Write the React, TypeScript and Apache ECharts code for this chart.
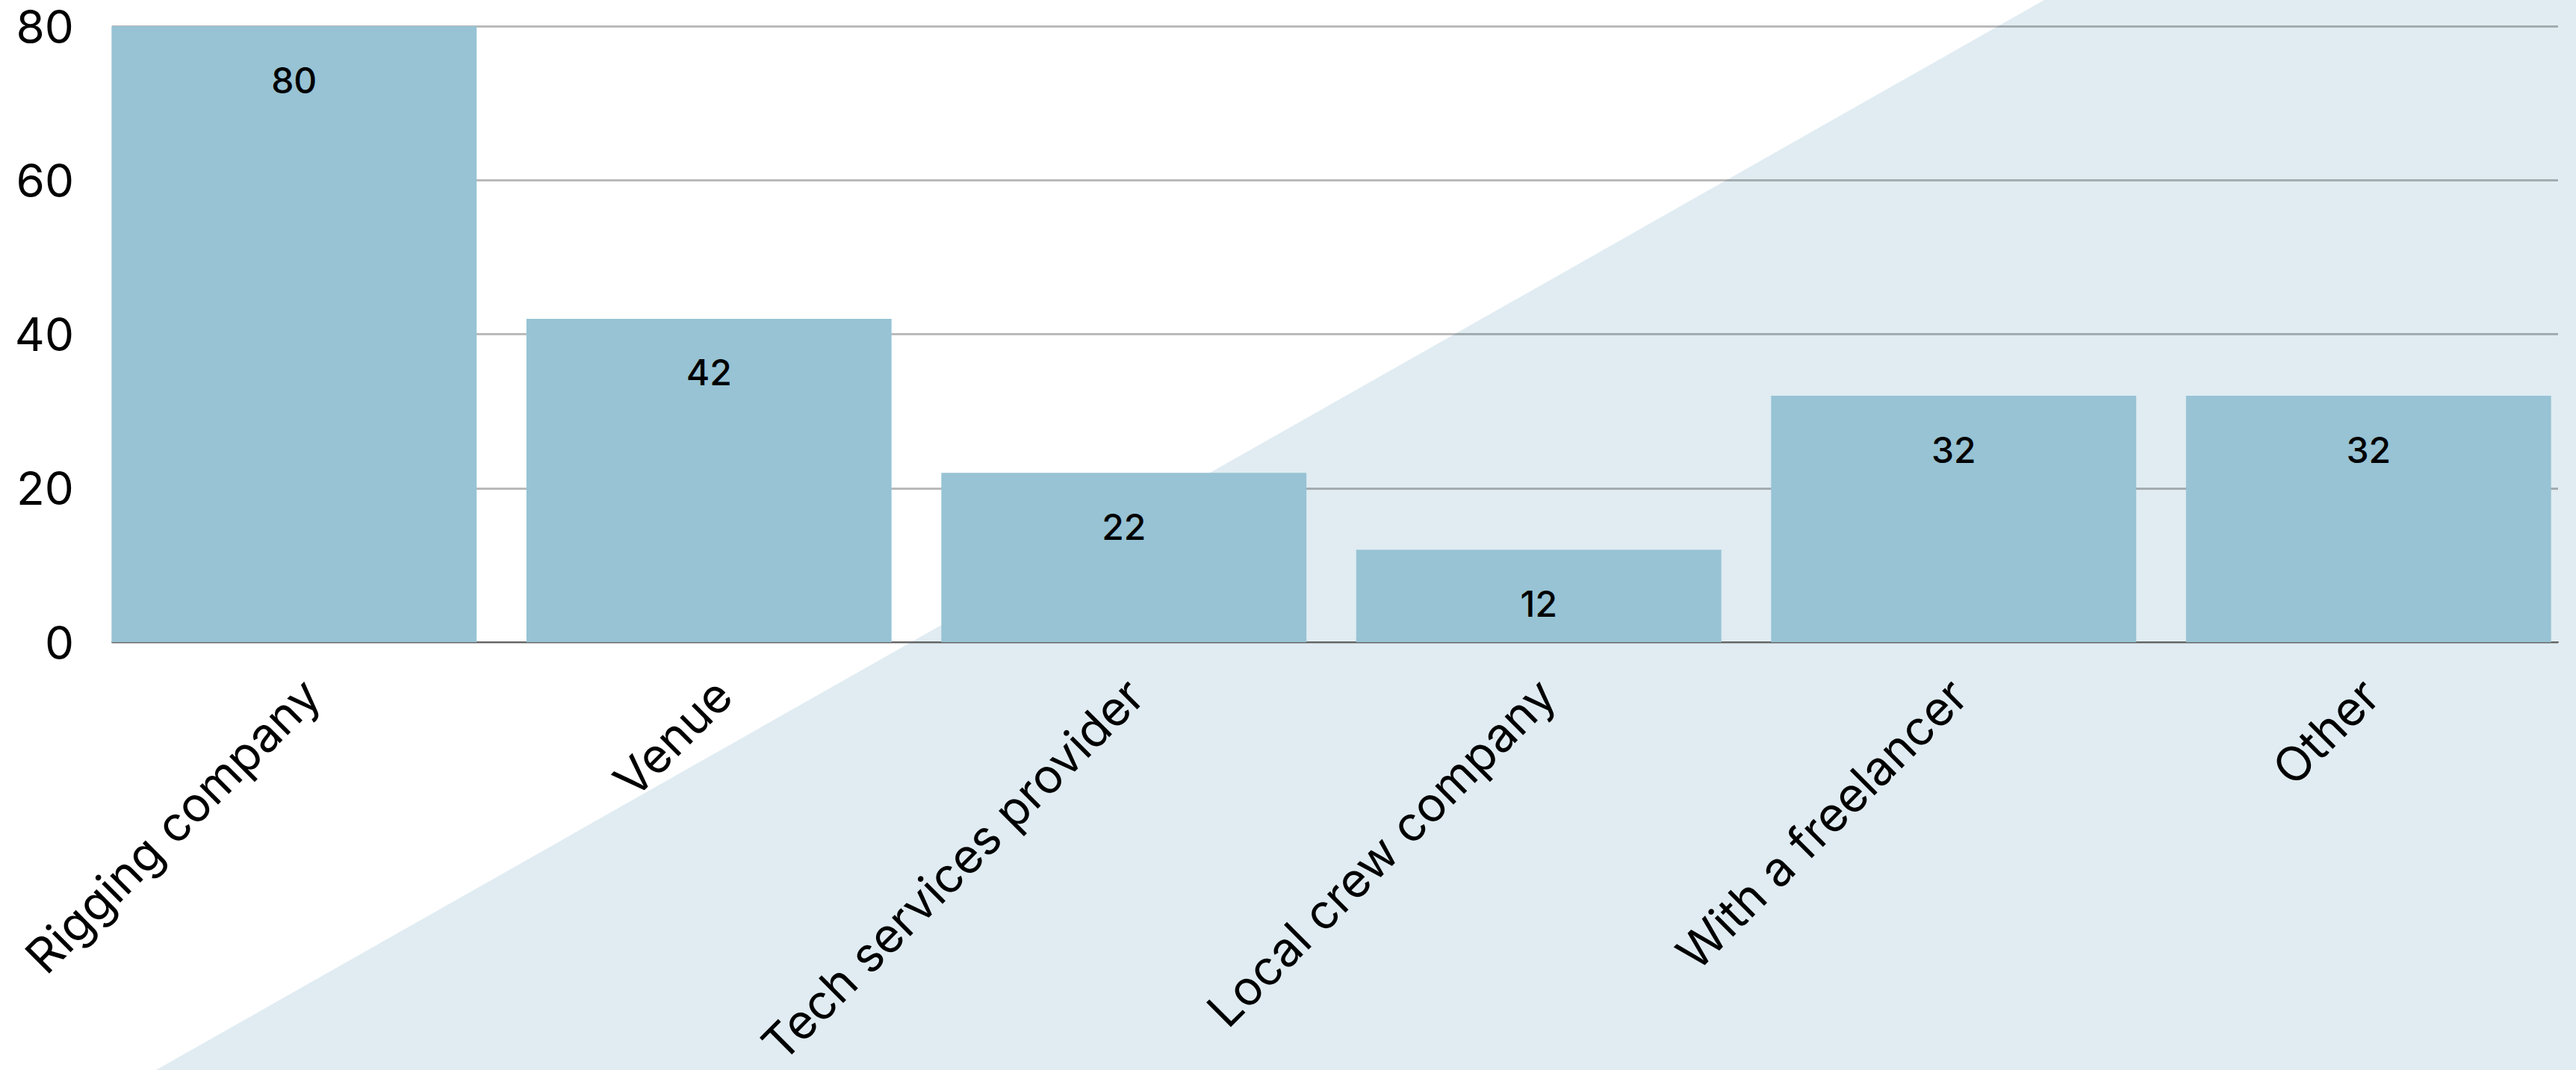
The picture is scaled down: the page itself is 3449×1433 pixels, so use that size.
import React, { useEffect, useRef } from "react";
import * as echarts from "echarts";

const categories = [
  "Rigging company",
  "Venue",
  "Tech services provider",
  "Local crew company",
  "With a freelancer",
  "Other",
];
const values = [80, 42, 22, 12, 32, 32];
const yMin = 0;
const yMax = 80;
const yInterval = 20;

const W = 3449;
const H = 1433;
const FONT = "Inter";

export default function App() {
  const ref = useRef<HTMLDivElement>(null);
  useEffect(() => {
    if (!ref.current) return;
    const chart = echarts.init(ref.current, null, { renderer: "svg" });
    const hiddenY = (gi: number) => ({
      type: "value",
      gridIndex: gi,
      min: yMin,
      max: yMax,
      interval: yInterval,
      show: false,
    });
    chart.setOption({
      animation: false,
      backgroundColor: "#ffffff",
      graphic: [
        {
          type: "polygon",
          z: -10,
          silent: true,
          shape: {
            points: [
              [209, H],
              [2737, 0],
              [W, 0],
              [W, H],
            ],
          },
          style: { fill: "#e0ecf2" },
        },
      ],
      grid: [
        // axes frame: gridlines, y labels, baseline
        { left: 150, width: 3275, top: 35, bottom: H - 860, containLabel: false },
        // bars
        { left: 116, width: 3342, top: 35, bottom: H - 860, containLabel: false },
        // category labels
        { left: 141, width: 3342, top: 35, bottom: H - 860, containLabel: false },
      ],
      xAxis: [
        {
          type: "value",
          gridIndex: 0,
          min: 0,
          max: 1,
          axisLine: { show: true, onZero: false, lineStyle: { color: "#666666", width: 2 } },
          axisTick: { show: false },
          axisLabel: { show: false },
          splitLine: { show: false },
        },
        {
          type: "category",
          gridIndex: 1,
          data: categories,
          axisLine: { show: false },
          axisTick: { show: false },
          axisLabel: { show: false },
        },
        {
          type: "category",
          gridIndex: 2,
          data: categories,
          axisLine: { show: false },
          axisTick: { show: false },
          axisLabel: {
            interval: 0,
            rotate: 45,
            margin: 68,
            fontSize: 64,
            fontFamily: FONT,
            color: "#000000",
          },
        },
      ],
      yAxis: [
        {
          type: "value",
          gridIndex: 0,
          min: yMin,
          max: yMax,
          interval: yInterval,
          axisLine: { show: false },
          axisTick: { show: false },
          splitLine: { lineStyle: { color: "rgba(0,0,0,0.27)", width: 3 } },
          axisLabel: {
            margin: 51,
            fontSize: 62,
            lineHeight: 56,
            fontFamily: FONT,
            color: "#000000",
          },
        },
        hiddenY(1),
        hiddenY(2),
      ],
      series: [
        {
          type: "bar",
          xAxisIndex: 1,
          yAxisIndex: 1,
          data: values,
          barCategoryGap: "12%",
          itemStyle: { color: "#97c3d4" },
          label: {
            show: true,
            position: "insideTop",
            distance: 48,
            fontSize: 48,
            fontWeight: 500,
            fontFamily: FONT,
            color: "#000000",
          },
        },
      ],
    });
    return () => chart.dispose();
  }, []);
  return (
    <div
      ref={ref}
      style={{ position: "absolute", left: 0, top: 0, width: W, height: H }}
    />
  );
}
